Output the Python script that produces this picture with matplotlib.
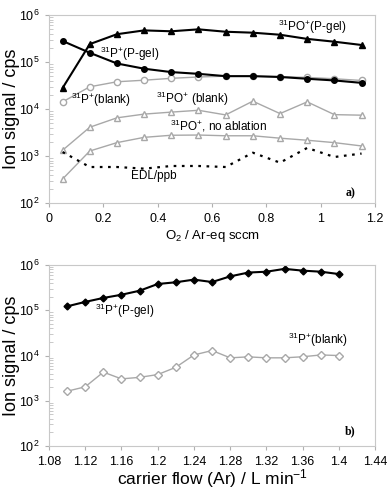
import matplotlib
matplotlib.use("Agg")
import matplotlib.pyplot as plt
import numpy as np

plt.rcParams['font.family'] = ['Liberation Sans', 'DejaVu Sans']
plt.rcParams['mathtext.default'] = 'regular'

# panel a) data
o2 = [0.05, 0.15, 0.25, 0.35, 0.45, 0.55, 0.65, 0.75, 0.85, 0.95, 1.05, 1.15]
po_gel = [2.8e4, 2.4e5, 3.9e5, 4.7e5, 4.5e5, 4.95e5, 4.4e5, 4.2e5, 3.8e5, 3.1e5, 2.7e5, 2.3e5]
p_gel = [2.8e5, 1.57e5, 9.3e4, 7.2e4, 6.1e4, 5.6e4, 5.0e4, 5.0e4, 4.8e4, 4.4e4, 4.05e4, 3.6e4]
p_blank = [1.42e4, 2.97e4, 3.8e4, 4.1e4, 4.5e4, 4.8e4, 5.0e4, 5.0e4, 4.9e4, 4.7e4, 4.4e4, 4.05e4]
po_blank = [1.33e3, 4.1e3, 6.5e3, 7.8e3, 8.6e3, 9.4e3, 7.5e3, 1.47e4, 8.0e3, 1.42e4, 7.6e3, 7.4e3]
po_noabl = [325, 1.28e3, 1.93e3, 2.5e3, 2.77e3, 2.8e3, 2.7e3, 2.7e3, 2.4e3, 2.17e3, 1.93e3, 1.64e3]
edl = [1.22e3, 585, 585, 540, 615, 615, 585, 1.18e3, 724, 1.49e3, 955, 1.13e3]

# panel b) data
flow = [1.10, 1.12, 1.14, 1.16, 1.18, 1.20, 1.22, 1.24, 1.26, 1.28, 1.30, 1.32, 1.34, 1.36, 1.38, 1.40]
pb_gel = [1.22e5, 1.53e5, 1.87e5, 2.2e5, 2.7e5, 3.8e5, 4.15e5, 4.75e5, 4.2e5, 5.6e5, 6.8e5, 7.1e5, 8.2e5, 7.5e5, 7.1e5, 6.3e5]
pb_blank = [1.63e3, 2.04e3, 4.3e3, 3.05e3, 3.3e3, 3.8e3, 5.5e3, 1.03e4, 1.29e4, 8.9e3, 9.35e3, 8.9e3, 8.9e3, 9.4e3, 1.03e4, 1.0e4]

grey = '#a8a8a8'
fig = plt.figure(figsize=(3.92, 4.99), dpi=100)
ax1 = fig.add_axes([0.125, 0.593, 0.832, 0.377])
ax2 = fig.add_axes([0.125, 0.106, 0.832, 0.363])


def style(ax):
    ax.set_yscale('log')
    ax.set_ylim(1e2, 1e6)
    for s in ax.spines.values():
        s.set_color('#c8c8c8')
    ax.tick_params(axis='both', which='major', labelsize=9, color='#b0b0b0', length=3, pad=4)
    ax.tick_params(axis='y', which='minor', direction='in', color='#c0c0c0', length=3)
    ax.set_ylabel('Ion signal / cps', fontsize=13)
    ax.yaxis.set_label_coords(-0.088, 0.5)


style(ax1)
ax1.plot(o2, po_gel, color='black', lw=1.5, marker='^', ms=4.5)
ax1.plot(o2, p_blank, color=grey, lw=1, marker='o', ms=4.5, mfc='white', mec=grey)
ax1.plot(o2, p_gel, color='black', lw=1.5, marker='o', ms=4)
ax1.plot(o2, po_blank, color=grey, lw=1, marker='^', ms=4.5, mfc='white', mec=grey)
ax1.plot(o2, po_noabl, color=grey, lw=1, marker='^', ms=4.5, mfc='white', mec=grey)
ax1.plot(o2, edl, color='black', lw=1.6, ls=(0, (1.2, 2.5)))
ax1.set_xlim(0, 1.2)
ax1.set_xticks([0, 0.2, 0.4, 0.6, 0.8, 1.0, 1.2])
ax1.set_xticklabels(['0', '0.2', '0.4', '0.6', '0.8', '1', '1.2'])
ax1.set_xlabel('O$_2$ / Ar-eq sccm', fontsize=9.5)
ax1.xaxis.set_label_coords(0.5, -0.135)

kw = dict(fontsize=8.5, ha='center', va='center')
ax1.text(0.967, 5.6e5, '$^{31}$PO$^{+}$(P-gel)', **kw)
ax1.text(0.297, 1.5e5, '$^{31}$P$^{+}$(P-gel)', **kw)
ax1.text(0.193, 1.55e4, '$^{31}$P$^{+}$(blank)', **kw)
ax1.text(0.528, 1.67e4, '$^{31}$PO$^{+}$ (blank)', **kw)
ax1.text(0.623, 4.3e3, '$^{31}$PO$^{+}$, no ablation', **kw)
ax1.text(0.386, 370, 'EDL/ppb', **kw)
ax1.text(1.108, 158, 'a)', fontsize=8.5, fontweight='bold', family='Liberation Serif', ha='center', va='center')

style(ax2)
ax2.plot(flow, pb_gel, color='black', lw=1.5, marker='D', ms=3.5)
ax2.plot(flow, pb_blank, color=grey, lw=1, marker='D', ms=4, mfc='white', mec=grey)
ax2.set_xlim(1.08, 1.44)
ax2.set_xticks([1.08, 1.12, 1.16, 1.2, 1.24, 1.28, 1.32, 1.36, 1.4, 1.44])
ax2.set_xticklabels(['1.08', '1.12', '1.16', '1.2', '1.24', '1.28', '1.32', '1.36', '1.4', '1.44'])
ax2.set_xlabel('carrier flow (Ar) / L min$^{-1}$', fontsize=12.5)
ax2.xaxis.set_label_coords(0.5, -0.118)
ax2.text(1.164, 9.6e4, '$^{31}$P$^{+}$(P-gel)', **kw)
ax2.text(1.377, 2.25e4, '$^{31}$P$^{+}$(blank)', **kw)
ax2.text(1.412, 215, 'b)', fontsize=8.5, fontweight='bold', family='Liberation Serif', ha='center', va='center')

fig.savefig('out.png', dpi=100)
